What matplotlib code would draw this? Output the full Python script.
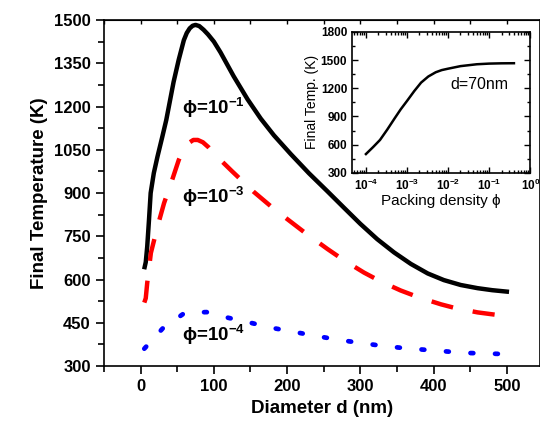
import numpy as np
import matplotlib
matplotlib.use('Agg')
import matplotlib.pyplot as plt
from matplotlib.ticker import MultipleLocator, LogLocator, NullFormatter

plt.rcParams['font.family'] = ['Liberation Sans', 'DejaVu Sans']
plt.rcParams['mathtext.fontset'] = 'custom'
plt.rcParams['mathtext.rm'] = 'Liberation Sans'
plt.rcParams['mathtext.bf'] = 'Liberation Sans:bold'

# main panel: final temperature vs diameter, three packing densities
d_hi = [5.5, 7, 9, 11.4, 13.7, 18, 23, 29.6, 35, 45, 52, 59, 63, 67, 71, 75, 80, 86, 92, 100, 109, 127, 146,
        164, 182, 205, 230, 255, 278, 300, 323, 346, 369, 392, 414, 437, 460, 480, 500]
T_hi = [643, 660, 714, 806, 900, 969, 1026, 1095, 1153, 1285, 1362, 1430, 1455, 1471, 1480, 1483, 1479, 1466, 1450, 1425, 1388, 1305, 1225,
        1158, 1100, 1035, 968, 906, 848, 793, 740, 694, 654, 621, 598, 581, 570, 563, 558]

d_mid = [5, 7, 9, 14, 23, 32, 43, 52, 59, 66, 72, 78, 85, 93, 102, 125, 154, 182, 223, 255, 278,
         305, 328, 355, 380, 410, 428, 460, 490]
T_mid = [520, 535, 588, 692, 783, 865, 945, 1014, 1056, 1074, 1084, 1084, 1076, 1058, 1032, 975, 905, 845, 765, 706, 666,
         624, 593, 562, 538, 514, 502, 486, 476]

d_lo = [5, 30, 60, 90, 120, 150, 180, 210, 240, 270, 300, 330, 360, 390, 420, 450, 490]
T_lo = [360, 430, 484, 487, 467, 450, 432, 418, 404, 391, 380, 370, 362, 356, 350, 345, 342]

# inset: d = 70 nm, temperature vs packing density
phi = [1e-4, 1.5e-4, 2.2e-4, 3.3e-4, 5e-4, 7e-4, 1e-3, 1.5e-3, 2.2e-3, 3.3e-3, 5e-3, 7e-3,
       1e-2, 2e-2, 5e-2, 1e-1, 2e-1, 4e-1]
T_phi = [500, 575, 650, 760, 880, 975, 1065, 1170, 1260, 1325, 1370, 1393,
         1408, 1435, 1455, 1462, 1465, 1466]

fig = plt.figure(figsize=(5.4, 4.3), dpi=100)
ax = fig.add_axes([0.1926, 0.1488, 0.807, 0.8047])

ax.plot(d_hi, T_hi, color='black', lw=3.2, solid_joinstyle='round')
ax.plot(d_mid, T_mid, color='red', lw=3.2, dashes=(5, 4.5), dash_capstyle='butt', dash_joinstyle='round')
ax.plot(d_lo, T_lo, color='blue', lw=3.4, dashes=(0.6, 4.6), dash_capstyle='round')

ax.set_xlim(-50, 545)
ax.set_ylim(300, 1500)
ax.xaxis.set_major_locator(MultipleLocator(100))
ax.xaxis.set_minor_locator(MultipleLocator(50))
ax.yaxis.set_major_locator(MultipleLocator(150))
ax.yaxis.set_minor_locator(MultipleLocator(75))
ax.tick_params(which='both', direction='out', width=1.2, labelsize=12)
ax.tick_params(which='major', length=6)
ax.tick_params(which='minor', length=4)
for lab in ax.get_xticklabels() + ax.get_yticklabels():
    lab.set_fontweight('bold')
for s in ax.spines.values():
    s.set_linewidth(1.2)

ax.set_xlabel('Diameter d (nm)', fontsize=13.5, fontweight='bold')
ax.set_ylabel('Final Temperature (K)', fontsize=13.5, fontweight='bold')

# top ticks, short and inward
sec = ax.secondary_xaxis('top')
sec.xaxis.set_major_locator(MultipleLocator(50))
sec.tick_params(direction='in', length=3, width=1, labeltop=False)

lbl = dict(fontsize=13.5, fontweight='bold', ha='left', va='center')
ax.text(56, 1195, 'ϕ=10$^{\\mathbf{-1}}$', **lbl)
ax.text(56, 886, 'ϕ=10$^{\\mathbf{-3}}$', **lbl)
ax.text(56, 408, 'ϕ=10$^{\\mathbf{-4}}$', **lbl)

# inset
ins = fig.add_axes([0.652, 0.598, 0.330, 0.328])
ins.plot(phi, T_phi, color='black', lw=1.8)
ins.set_xscale('log')
ins.set_xlim(4.6e-5, 1)
ins.set_ylim(300, 1800)
ins.yaxis.set_major_locator(MultipleLocator(300))
ins.yaxis.set_minor_locator(MultipleLocator(150))
ins.xaxis.set_major_locator(LogLocator(base=10, numticks=10))
ins.xaxis.set_minor_locator(LogLocator(base=10, subs=np.arange(2, 10), numticks=10))
ins.xaxis.set_minor_formatter(NullFormatter())
ins.tick_params(which='both', direction='in', top=True, right=True, width=1, labelsize=8.5)
ins.tick_params(which='major', length=4)
ins.tick_params(which='minor', length=2)
for lab in ins.get_xticklabels() + ins.get_yticklabels():
    lab.set_fontweight('bold')
for s in ins.spines.values():
    s.set_linewidth(1.2)
ins.set_xlabel('Packing density ϕ', fontsize=11, labelpad=1)
ins.set_ylabel('Final Temp. (K)', fontsize=10, labelpad=1)
ins.text(0.55, 0.63, 'd=70nm', transform=ins.transAxes, fontsize=11.5, ha='left', va='center')

fig.savefig('out.png', dpi=100)
